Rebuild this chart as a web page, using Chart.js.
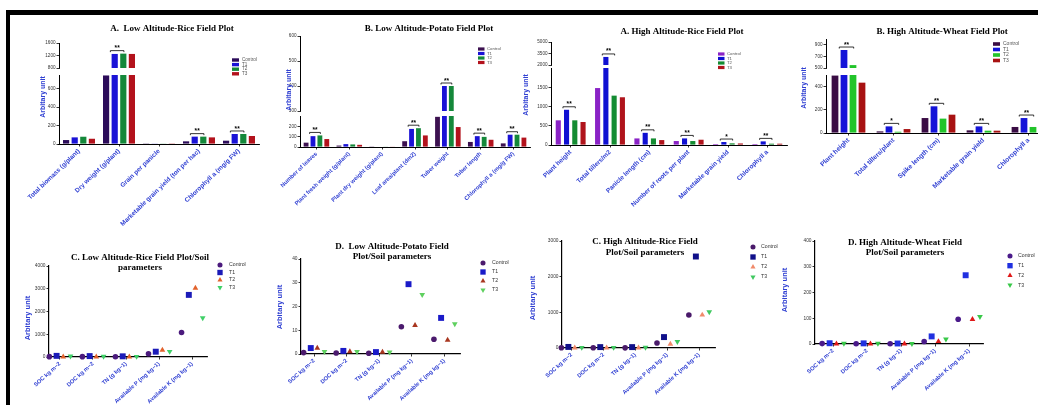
<!DOCTYPE html>
<html>
<head>
<meta charset="utf-8">
<script src="https://cdn.jsdelivr.net/npm/chart.js@4.4.0/dist/chart.umd.min.js"></script>
<style>
  html, body { margin: 0; padding: 0; background: #fff; overflow: hidden; }
  #page { position: relative; width: 1038px; height: 405px; overflow: hidden; background: #fff; }
  #frame { position: absolute; left: 6px; top: 10px; width: 1040px; height: 400px;
           border-top: 5px solid #000; border-left: 4px solid #000; }
  canvas { position: absolute; }
</style>
</head>
<body>
<div id="page">
  <div id="frame"></div>
  <canvas id="c1"></canvas>
  <canvas id="c2"></canvas>
  <canvas id="c3"></canvas>
  <canvas id="c4"></canvas>
  <canvas id="c5"></canvas>
  <canvas id="c6"></canvas>
  <canvas id="c7"></canvas>
  <canvas id="c8"></canvas>
</div>
<script>
const seriesNames = ['Control', 'T1', 'T2', 'T3'];

// A. Low Altitude - Rice field plot (broken axis)
const riceLowCats = ['Total biomass (g/plant)', 'Dry weight (g/plant)', 'Grain per panicle',
  'Marketable grain yield (ton per hac)', 'Chlorophyll a (mg/g FW)'];
const riceLowControl = [43, 745, 2, 29, 36];
const riceLowT1 = [72, 1250, 3, 80, 109];
const riceLowT2 = [79, 1260, 3, 80, 109];
const riceLowT3 = [57, 1250, 2, 72, 87];
const riceLowSig = ['', '**', '', '**', '**'];
const riceLowLowRange = [0, 750];
const riceLowHighRange = [800, 1600];
const riceLowLowTicks = [0, 200, 400, 600];
const riceLowHighTicks = [800, 1000, 1200, 1400, 1600];

// B. Low Altitude - Potato field plot
const potatoCats = ['Number of leaves', 'Plant fresh weight (g/plant)', 'Plant dry weight (g/plant)',
  'Leaf area/plant (dm2)', 'Tuber weight', 'Tuber length', 'Chlorophyll a (mg/g FW)'];
const potatoControl = [42, 14, 2, 56, 292, 49, 35];
const potatoT1 = [105, 28, 4, 175, 400, 105, 119];
const potatoT2 = [112, 25, 3, 182, 400, 98, 119];
const potatoT3 = [77, 21, 3, 112, 193, 70, 91];
const potatoSig = ['**', '', '', '**', '**', '**', '**'];
const potatoLowRange = [0, 300];
const potatoHighRange = [300, 600];
const potatoLowTicks = [0, 100, 200];
const potatoHighTicks = [300, 400, 500, 600];

// A. High Altitude - Rice field plot
const riceHighCats = ['Plant height', 'Total tillers/m2', 'Panicle length (cm)',
  'Number of roots per plant', 'Marketable grain yield', 'Chlorophyll a'];
const riceHighControl = [641, 1479, 171, 103, 26, 26];
const riceHighT1 = [915, 3050, 316, 171, 77, 94];
const riceHighT2 = [641, 1282, 171, 103, 43, 34];
const riceHighT3 = [598, 1240, 128, 137, 40, 34];
const riceHighSig = ['**', '**', '**', '**', '*', '**'];
const riceHighLowRange = [0, 2000];
const riceHighHighRange = [2000, 5000];
const riceHighLowTicks = [0, 500, 1000, 1500];
const riceHighHighTicks = [2000, 2500, 3000, 3500, 4000, 4500, 5000];

// B. High Altitude - Wheat field plot
const wheatCats = ['Plant height', 'Total tillers/plant', 'Spike length (cm)',
  'Marketable grain yield', 'Chlorophyll a'];
const wheatControl = [495, 14, 129, 23, 52];
const wheatT1 = [810, 57, 230, 57, 129];
const wheatT2 = [550, 11, 124, 20, 52];
const wheatT3 = [434, 34, 158, 20, 40];
const wheatSig = ['**', '*', '**', '**', '**'];
const wheatLowRange = [0, 500];
const wheatHighRange = [500, 1000];
const wheatLowTicks = [0, 200, 400];
const wheatHighTicks = [500, 600, 700, 800, 900, 1000];

// Soil parameters (C, D panels)
const soilCats = ['SOC kg m\u22122', 'DOC kg m\u22122', 'TN (g kg\u22121)',
  'Available P (mg kg\u22121)', 'Available K (mg kg\u22121)'];

const soilRiceLowControl = [15, 15, 12, 145, 1080];
const soilRiceLowT1 = [50, 40, 30, 233, 2730];
const soilRiceLowT2 = [8, 5, 5, 305, 3030];
const soilRiceLowT3 = [35, 25, 20, 240, 1720];
const soilRiceLowTicks = [0, 1000, 2000, 3000, 4000];

const soilPotatoControl = [0.6, 0.4, 0.3, 11.5, 6.2];
const soilPotatoT1 = [2.5, 1.3, 0.8, 29.4, 15.2];
const soilPotatoT2 = [2.5, 1.0, 0.8, 12.1, 5.9];
const soilPotatoT3 = [1.0, 1.0, 0.8, 25, 12.7];
const soilPotatoTicks = [0, 10, 20, 30, 40];

const soilRiceHighControl = [5, 5, 4, 139, 926];
const soilRiceHighT1 = [30, 25, 25, 306, 2565];
const soilRiceHighT2 = [3, 3, 3, 111, 926];
const soilRiceHighT3 = [12, 12, 15, 176, 1009];
const soilRiceHighTicks = [0, 1000, 2000, 3000];

const soilWheatControl = [1.5, 1, 1, 10, 96];
const soilWheatT1 = [3, 2.5, 2, 29.5, 267];
const soilWheatT2 = [0.5, 0.5, 0.5, 10, 96];
const soilWheatT3 = [2, 2, 1.5, 19, 106];
const soilWheatTicks = [0, 100, 200, 300, 400];

// marker styles for the dot panels
const dotOffsets = [-0.32, -0.1, 0.1, 0.32];
const dotStyles = ['circle', 'rect', 'triangle', 'triangle'];
const dotRotations = [0, 0, 0, 180];
const dotRadii = [2.8, 4.2, 3.3, 3.3];

const SANS = '"Liberation Sans", Arial, sans-serif';
const SERIF = '"Liberation Serif", "Times New Roman", serif';
const LABEL_BLUE = '#2f3fd2';

// ---------- small drawing plugins ----------
function textPlugin(items, rect) {
  return {
    id: 'panelText',
    afterDraw(chart) {
      const ctx = chart.ctx;
      ctx.save();
      items.forEach(t => {
        ctx.save();
        ctx.font = t.font;
        ctx.fillStyle = t.color || '#000';
        ctx.textAlign = 'center';
        ctx.textBaseline = 'middle';
        ctx.translate(t.x - rect.x, t.y - rect.y);
        if (t.rotate) ctx.rotate(t.rotate * Math.PI / 180);
        ctx.fillText(t.text, 0, 0);
        ctx.restore();
      });
      ctx.restore();
    }
  };
}

function marker(ctx, style, rot, x, y, r) {
  ctx.beginPath();
  if (style === 'circle') {
    ctx.arc(x, y, r, 0, Math.PI * 2);
  } else if (style === 'rect') {
    const s = r * Math.SQRT1_2;
    ctx.rect(x - s, y - s, 2 * s, 2 * s);
  } else {
    const d = rot === 180 ? -1 : 1;
    ctx.moveTo(x, y - d * r);
    ctx.lineTo(x - r * 0.866, y + d * r * 0.5);
    ctx.lineTo(x + r * 0.866, y + d * r * 0.5);
    ctx.closePath();
  }
  ctx.fill();
}

function legendPlugin(lg, rect) {
  return {
    id: 'insetLegend',
    afterDraw(chart) {
      const ctx = chart.ctx;
      ctx.save();
      ctx.font = lg.font;
      ctx.textBaseline = 'middle';
      ctx.textAlign = 'left';
      chart.data.datasets.slice(0, 4).forEach((ds, i) => {
        const y = lg.y - rect.y + i * lg.gap;
        const x = lg.x - rect.x;
        if (lg.kind === 'bar') {
          ctx.fillStyle = ds.backgroundColor;
          ctx.fillRect(x, y - lg.h / 2, lg.w, lg.h);
        } else {
          ctx.fillStyle = ds.pointBackgroundColor;
          marker(ctx, ds.pointStyle, ds.pointRotation, x, y, ds.pointRadius * 0.9);
        }
        ctx.fillStyle = lg.color;
        ctx.fillText(ds.label, lg.textX - rect.x, y);
      });
      ctx.restore();
    }
  };
}

function sigPlugin(marks) {
  return {
    id: 'sigMarks',
    afterDatasetsDraw(chart) {
      const ctx = chart.ctx;
      ctx.save();
      ctx.strokeStyle = '#000';
      ctx.fillStyle = '#000';
      ctx.lineWidth = 0.8;
      ctx.font = 'bold 6.5px ' + SANS;
      ctx.textAlign = 'center';
      ctx.textBaseline = 'bottom';
      marks.forEach((m, i) => {
        if (!m) return;
        let top = Infinity;
        chart.data.datasets.forEach((ds, d) => {
          if (ds.data[i] == null) return;
          top = Math.min(top, chart.getDatasetMeta(d).data[i].y);
        });
        const b1 = chart.getDatasetMeta(1).data[i];
        const b2 = chart.getDatasetMeta(2).data[i];
        const w = b1.width;
        const x1 = b1.x - w * 0.7, x2 = b2.x + w * 0.1;
        const y = top - 3;
        ctx.beginPath();
        ctx.moveTo(x1, y + 1.5); ctx.lineTo(x1, y); ctx.lineTo(x2, y); ctx.lineTo(x2, y + 1.5);
        ctx.stroke();
        ctx.fillText(m, (x1 + x2) / 2, y + 1);
      });
      ctx.restore();
    }
  };
}

function placeCanvas(id, rect) {
  const c = document.getElementById(id);
  c.width = rect.w; c.height = rect.h;
  c.style.left = rect.x + 'px'; c.style.top = rect.y + 'px';
  return c;
}

function padFor(rect, area, yW, xH) {
  return {
    left: area.l - rect.x - yW,
    top: area.t - rect.y,
    right: rect.x + rect.w - area.r,
    bottom: rect.y + rect.h - area.b - xH
  };
}

function yAxis(ticksArr, range, weight, stackWeight, yW) {
  return {
    type: 'linear', position: 'left', stack: 'v', stackWeight: stackWeight, weight: weight,
    stacked: false, min: range[0], max: range[1],
    grid: { display: true, drawOnChartArea: false, tickLength: 2.5, color: '#000', lineWidth: 0.8 },
    border: { color: '#000', width: 1 },
    ticks: { font: { size: 4.6, family: SANS }, color: '#333', padding: 1, callback: v => String(v) },
    afterBuildTicks: s => { s.ticks = ticksArr.map(v => ({ value: v })); },
    afterFit: s => { s.width = yW; s.paddingTop = 0; s.paddingBottom = 0; }
  };
}

function xLabelTicks(size, rot) {
  return {
    font: { size: size, family: SANS, weight: 'bold' }, color: LABEL_BLUE,
    maxRotation: rot, minRotation: rot, autoSkip: false, padding: 1
  };
}

// ---------- broken-axis bar panels ----------
function buildBar(p) {
  const canvas = placeCanvas(p.id, p.rect);
  const yW = 14, xH = 92;
  const lowMax = p.lowRange[1];
  const base = { barPercentage: p.barPct, categoryPercentage: p.catPct };
  const datasets = [];
  p.series.forEach((vals, s) => datasets.push(Object.assign({
    label: seriesNames[s], data: vals.map(v => Math.min(v, lowMax)),
    backgroundColor: p.colors[s], yAxisID: 'yLow', stack: 's' + s
  }, base)));
  p.series.forEach((vals, s) => datasets.push(Object.assign({
    label: seriesNames[s], data: vals.map(v => (v > lowMax ? [p.highRange[0], v] : null)),
    backgroundColor: p.colors[s], yAxisID: 'yHigh', stack: 's' + s
  }, base)));

  new Chart(canvas, {
    type: 'bar',
    data: { labels: p.cats, datasets: datasets },
    options: {
      responsive: false, animation: false, devicePixelRatio: 1,
      layout: { padding: padFor(p.rect, p.area, yW, xH) },
      plugins: { legend: { display: false }, title: { display: false }, tooltip: { enabled: false } },
      scales: {
        x: {
          type: 'category', offset: true,
          grid: { display: true, drawOnChartArea: false, offset: false, tickLength: 2.5, color: '#000', lineWidth: 0.8 },
          border: { color: '#000', width: 1 },
          ticks: xLabelTicks(p.labelSize, 44),
          afterFit: s => { s.height = xH; s.paddingLeft = 0; s.paddingRight = 0; }
        },
        yLow: yAxis(p.lowTicks, p.lowRange, 1, p.split[2], yW),
        yGap: {
          type: 'linear', position: 'left', stack: 'v', stackWeight: p.split[1], weight: 2,
          min: 0, max: 1, grid: { display: false }, border: { display: false }, ticks: { display: false },
          afterFit: s => { s.width = yW; s.paddingTop = 0; s.paddingBottom = 0; }
        },
        yHigh: yAxis(p.highTicks, p.highRange, 3, p.split[0], yW)
      }
    },
    plugins: [sigPlugin(p.sig), textPlugin(p.texts, p.rect), legendPlugin(p.legend, p.rect)]
  });
}

// ---------- dot panels (soil) ----------
function buildDots(p) {
  const canvas = placeCanvas(p.id, p.rect);
  const yW = 14, xH = 58;
  const datasets = p.series.map((vals, s) => ({
    label: seriesNames[s],
    data: vals.map((v, i) => ({ x: i + dotOffsets[s], y: v })),
    pointStyle: dotStyles[s], pointRotation: dotRotations[s], pointRadius: dotRadii[s],
    pointBackgroundColor: p.colors[s], pointBorderColor: p.colors[s], pointBorderWidth: 0,
    backgroundColor: p.colors[s], showLine: false, clip: false
  }));

  new Chart(canvas, {
    type: 'scatter',
    data: { datasets: datasets },
    options: {
      responsive: false, animation: false, devicePixelRatio: 1,
      layout: { padding: padFor(p.rect, p.area, yW, xH) },
      plugins: { legend: { display: false }, title: { display: false }, tooltip: { enabled: false } },
      scales: {
        x: {
          type: 'linear', min: p.xRange[0], max: p.xRange[1],
          grid: { display: true, drawOnChartArea: false, tickLength: 2.5, color: '#000', lineWidth: 0.8 },
          border: { color: '#000', width: 1.2 },
          ticks: Object.assign(xLabelTicks(5.7, 42), { callback: v => soilCats[v] }),
          afterBuildTicks: s => { s.ticks = soilCats.map((c, i) => ({ value: i })); },
          afterFit: s => { s.height = xH; s.paddingLeft = 0; s.paddingRight = 0; }
        },
        y: {
          type: 'linear', position: 'left', min: p.yTicks[0], max: p.yTicks[p.yTicks.length - 1],
          grid: { display: true, drawOnChartArea: false, tickLength: 2.5, color: '#000', lineWidth: 0.8 },
          border: { color: '#000', width: 1.2 },
          ticks: { font: { size: 4.8, family: SANS }, color: '#333', padding: 1, callback: v => String(v) },
          afterBuildTicks: s => { s.ticks = p.yTicks.map(v => ({ value: v })); },
          afterFit: s => { s.width = yW; s.paddingTop = 0; s.paddingBottom = 0; }
        }
      }
    },
    plugins: [textPlugin(p.texts, p.rect), legendPlugin(p.legend, p.rect)]
  });
}

const TITLE_FONT = 'bold 9px ' + SERIF;
const YT_FONT = 'bold 7px ' + SANS;
const YT_FONT2 = 'bold 7.5px ' + SANS;

buildBar({
  id: 'c1', rect: { x: 0, y: 16, w: 268, h: 240 }, area: { l: 59, t: 43, r: 259, b: 144 },
  cats: riceLowCats, series: [riceLowControl, riceLowT1, riceLowT2, riceLowT3],
  colors: ['#2c0c5a', '#1a12d6', '#14883a', '#b3121c'],
  lowRange: riceLowLowRange, highRange: riceLowHighRange,
  lowTicks: riceLowLowTicks, highTicks: riceLowHighTicks, split: [25, 7, 69],
  sig: riceLowSig, barPct: 0.72, catPct: 0.86, labelSize: 6.4,
  texts: [
    { text: 'A.  Low Altitude-Rice Field Plot', x: 172, y: 29, font: TITLE_FONT },
    { text: 'Arbitary unit', x: 43, y: 97, font: YT_FONT, color: LABEL_BLUE, rotate: -90 }
  ],
  legend: { kind: 'bar', x: 232, y: 60, gap: 4.6, w: 7, h: 3.4, textX: 242, font: '4.6px ' + SANS, color: '#555' }
});

buildBar({
  id: 'c2', rect: { x: 250, y: 16, w: 290, h: 240 }, area: { l: 300, t: 36, r: 530, b: 147 },
  cats: potatoCats, series: [potatoControl, potatoT1, potatoT2, potatoT3],
  colors: ['#3c1150', '#1a12d6', '#14883a', '#b3121c'],
  lowRange: potatoLowRange, highRange: potatoHighRange,
  lowTicks: potatoLowTicks, highTicks: potatoHighTicks, split: [75, 5, 31],
  sig: potatoSig, barPct: 0.7, catPct: 0.84, labelSize: 5.8,
  texts: [
    { text: 'B. Low Altitude-Potato Field Plot', x: 429, y: 29, font: TITLE_FONT },
    { text: 'Arbitary unit', x: 289, y: 90, font: YT_FONT, color: LABEL_BLUE, rotate: -90 }
  ],
  legend: { kind: 'bar', x: 478, y: 49, gap: 4.5, w: 6.5, h: 3.2, textX: 487, font: '4.3px ' + SANS, color: '#555' }
});

buildBar({
  id: 'c3', rect: { x: 500, y: 16, w: 295, h: 240 }, area: { l: 551, t: 42, r: 787, b: 145 },
  cats: riceHighCats, series: [riceHighControl, riceHighT1, riceHighT2, riceHighT3],
  colors: ['#8a22c6', '#1010d2', '#148c32', '#b0141c'],
  lowRange: riceHighLowRange, highRange: riceHighHighRange,
  lowTicks: riceHighLowTicks, highTicks: riceHighHighTicks, split: [23, 3, 77],
  sig: riceHighSig, barPct: 0.62, catPct: 0.84, labelSize: 6.4,
  texts: [
    { text: 'A. High Altitude-Rice Field Plot', x: 682, y: 32, font: TITLE_FONT },
    { text: 'Arbitary unit', x: 526, y: 95, font: YT_FONT, color: LABEL_BLUE, rotate: -90 }
  ],
  legend: { kind: 'bar', x: 718, y: 54, gap: 4.5, w: 6.5, h: 3.2, textX: 727, font: '4.3px ' + SANS, color: '#555' }
});

buildBar({
  id: 'c4', rect: { x: 780, y: 16, w: 290, h: 240 }, area: { l: 826, t: 39, r: 1051, b: 133 },
  cats: wheatCats, series: [wheatControl, wheatT1, wheatT2, wheatT3],
  colors: ['#3a0c44', '#1414d8', '#22c42a', '#a81212'],
  lowRange: wheatLowRange, highRange: wheatHighRange,
  lowTicks: wheatLowTicks, highTicks: wheatHighTicks, split: [29, 7, 58],
  sig: wheatSig, barPct: 0.75, catPct: 0.8, labelSize: 6.6,
  texts: [
    { text: 'B. High Altitude-Wheat Field Plot', x: 942, y: 32, font: TITLE_FONT },
    { text: 'Arbitary unit', x: 804, y: 88, font: YT_FONT, color: LABEL_BLUE, rotate: -90 }
  ],
  legend: { kind: 'bar', x: 993, y: 44, gap: 5.5, w: 7, h: 3.6, textX: 1003, font: '5px ' + SANS, color: '#555' }
});

buildDots({
  id: 'c5', rect: { x: 0, y: 232, w: 270, h: 190 }, area: { l: 49, t: 266, r: 207, b: 357 },
  series: [soilRiceLowControl, soilRiceLowT1, soilRiceLowT2, soilRiceLowT3], yTicks: soilRiceLowTicks,
  xRange: [-0.33, 4.45],
  colors: ['#4b1a7d', '#1b1bb8', '#e2622c', '#40d068'],
  texts: [
    { text: 'C. Low Altitude-Rice Field Plot/Soil', x: 140, y: 258, font: TITLE_FONT },
    { text: 'parameters', x: 140, y: 268, font: TITLE_FONT },
    { text: 'Arbitary unit', x: 28, y: 318, font: YT_FONT2, color: LABEL_BLUE, rotate: -90 }
  ],
  legend: { kind: 'dot', x: 220, y: 265, gap: 7.5, textX: 229, font: '5.2px ' + SANS, color: '#333' }
});

buildDots({
  id: 'c6', rect: { x: 255, y: 225, w: 270, h: 195 }, area: { l: 301, t: 259, r: 460, b: 354 },
  series: [soilPotatoControl, soilPotatoT1, soilPotatoT2, soilPotatoT3], yTicks: soilPotatoTicks,
  xRange: [-0.4, 4.48],
  colors: ['#4b1a6d', '#1a1ac8', '#a8361f', '#5fd05f'],
  texts: [
    { text: 'D.  Low Altitude-Potato Field', x: 392, y: 247, font: TITLE_FONT },
    { text: 'Plot/Soil parameters', x: 392, y: 257, font: TITLE_FONT },
    { text: 'Arbitary unit', x: 280, y: 307, font: YT_FONT2, color: LABEL_BLUE, rotate: -90 }
  ],
  legend: { kind: 'dot', x: 483, y: 263, gap: 9, textX: 492, font: '5.2px ' + SANS, color: '#333' }
});

buildDots({
  id: 'c7', rect: { x: 515, y: 225, w: 270, h: 195 }, area: { l: 562, t: 241, r: 715, b: 348 },
  series: [soilRiceHighControl, soilRiceHighT1, soilRiceHighT2, soilRiceHighT3], yTicks: soilRiceHighTicks,
  xRange: [-0.3, 4.5],
  colors: ['#4a1a6a', '#10108a', '#f08a6a', '#40c860'],
  texts: [
    { text: 'C. High Altitude-Rice Field', x: 645, y: 242, font: TITLE_FONT },
    { text: 'Plot/Soil parameters', x: 645, y: 253, font: TITLE_FONT },
    { text: 'Arbitary unit', x: 533, y: 298, font: YT_FONT2, color: LABEL_BLUE, rotate: -90 }
  ],
  legend: { kind: 'dot', x: 753, y: 247, gap: 10, textX: 761, font: '5.2px ' + SANS, color: '#333' }
});

buildDots({
  id: 'c8', rect: { x: 775, y: 225, w: 263, h: 195 }, area: { l: 815, t: 241, r: 983, b: 344 },
  series: [soilWheatControl, soilWheatT1, soilWheatT2, soilWheatT3], yTicks: soilWheatTicks,
  xRange: [-0.53, 4.41],
  colors: ['#4a1a8a', '#2030e0', '#e01818', '#38c848'],
  texts: [
    { text: 'D. High Altitude-Wheat Field', x: 905, y: 243, font: TITLE_FONT },
    { text: 'Plot/Soil parameters', x: 905, y: 253, font: TITLE_FONT },
    { text: 'Arbitary unit', x: 785, y: 290, font: YT_FONT2, color: LABEL_BLUE, rotate: -90 }
  ],
  legend: { kind: 'dot', x: 1010, y: 256, gap: 9.7, textX: 1018, font: '5.2px ' + SANS, color: '#333' }
});
</script>
</body>
</html>
